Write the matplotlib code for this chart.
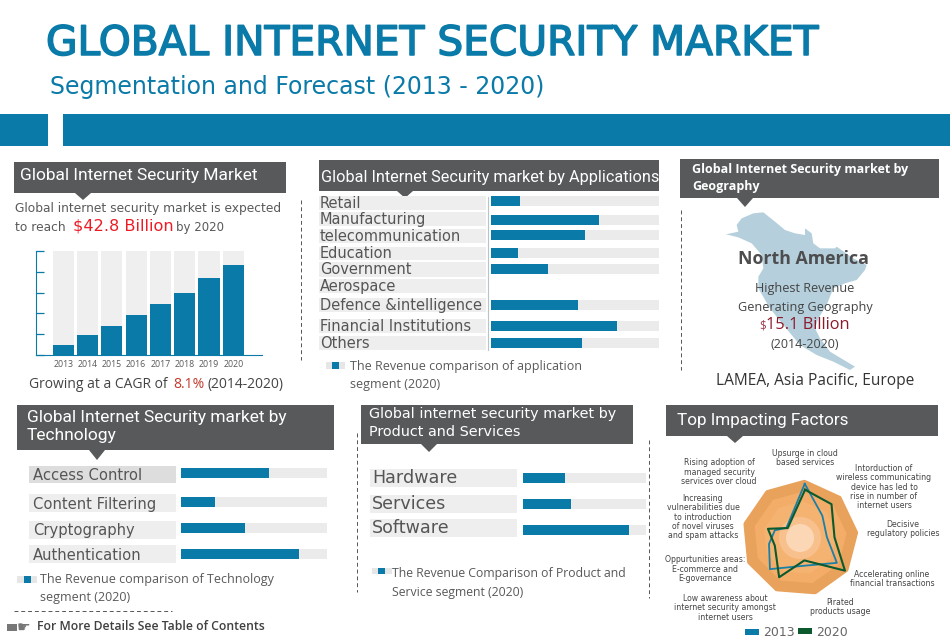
import numpy as np
import matplotlib
matplotlib.use("Agg")
import matplotlib.pyplot as plt
import matplotlib.patheffects as pe
from matplotlib.patches import Polygon, Rectangle

# market size panel
years = ["2013", "2014", "2015", "2016", "2017", "2018", "2019", "2020"]
market_size = [10, 19, 28, 38, 49, 60, 74, 87]

# revenue comparison panels (share of the grey track)
app_labels = ["Retail", "Manufacturing", "telecommunication", "Education", "Government",
              "Aerospace", "Defence &intelligence", "Financial Institutions", "Others"]
app_values = [17, 64, 56, 16, 34, 0, 52, 75, 54]

tech_labels = ["Access Control", "Content Filtering", "Cryptography", "Authentication"]
tech_values = [60, 23, 44, 81]

prod_labels = ["Hardware", "Services", "Software"]
prod_values = [34, 39, 86]

# radar panel, corners read as bearing (deg) and radius (0-10)
factor_labels = ["Upsurge in cloud\nbased services",
                 "Intorduction of\nwireless communicating\ndevice has led to\nrise in number of\ninternet users",
                 "Decisive\nregulatory policies",
                 "Accelerating online\nfinancial transactions",
                 "Pirated\nproducts usage",
                 "Low awareness about\ninternet security amongst\ninternet users",
                 "Oppurtunities areas:\nE-commerce and\nE-governance",
                 "Increasing\nvulnerabilities due\nto introduction\nof novel viruses\nand spam attacks",
                 "Rising adoption of\nmanaged security\nservices over cloud"]
bearing_2013 = [5, 45, 88, 124, 170, 224, 259, 287, 307]
factors_2013 = [9.3, 5.4, 4.6, 7.6, 4.8, 7.4, 5.4, 4.5, 2.9]
bearing_2020 = [6, 43, 89, 126, 169, 208, 253, 286, 309]
factors_2020 = [8.3, 7.9, 5.9, 9.5, 3.9, 7.6, 4.5, 5.7, 2.7]

# layout, in reference pixels
app_rows = [201, 220, 235, 253, 269, 288, 305, 326, 343]
app_strips = [(196, 210), (212, 226), (229, 243), (247, 260), (262, 277), (279, 293), (298, 312), (319, 333), (336, 350)]
tech_rows = [473, 502, 528, 554]
tech_strips = [(466, 483), (494, 512), (521, 539), (545, 563)]
prod_rows = [478, 504, 530]
prod_strips = [(469, 487), (495, 513), (519, 537)]
factor_pos = [(805, 458), (884, 487), (903, 529), (892, 579), (840, 607), (725, 608), (705, 569), (703, 517), (719, 472)]
map_outline = [(18, 88), (55, 80), (50, 60), (65, 40), (100, 25), (130, 22), (165, 50), (195, 75), (225, 85),
               (255, 90), (255, 70), (275, 85), (280, 115), (300, 130), (345, 130), (350, 125), (400, 160),
               (440, 180), (435, 195), (410, 225), (375, 235), (340, 250), (320, 300), (295, 340), (285, 370),
               (300, 400), (330, 440), (405, 485), (390, 495), (340, 470), (290, 450), (240, 420), (190, 360),
               (150, 310), (115, 250), (115, 215), (130, 190), (125, 150), (95, 115), (55, 97)]

W, H = 950, 644
TEAL = "#0a7aa8"
HEAD = "#58595b"
TRACK = "#ebebeb"
TEXT = "#58595b"
GOTHIC = "DejaVu Sans"
BODY = "Open Sans"

fig = plt.figure(figsize=(W / 100, H / 100), dpi=100, facecolor="white")


def px_axes(x0, y0, x1, y1, **kw):
    return fig.add_axes([x0 / W, 1 - y1 / H, (x1 - x0) / W, (y1 - y0) / H], **kw)


bg = px_axes(0, 0, W, H)
bg.set_xlim(0, W)
bg.set_ylim(H, 0)
bg.axis("off")


def put(x, y, s, size, color=TEXT, family=GOTHIC, ha="left", **kw):
    return bg.text(x, y, s, fontsize=size, color=color, family=family, ha=ha, va="center", **kw)


def rect(x0, y0, x1, y1, color):
    bg.add_patch(Rectangle((x0, y0), x1 - x0, y1 - y0, facecolor=color, edgecolor="none"))


def header(x0, y0, x1, y1, tip_x, tip_y):
    rect(x0, y0, x1, y1, HEAD)
    bg.add_patch(Polygon([(tip_x - 8, y1), (tip_x + 8, y1), (tip_x, tip_y)], facecolor=HEAD, edgecolor="none"))


def legend_key(x0, y0, x1, y1, kx0, kx1):
    rect(x0, y0, x1, y1, "#e6e6e6")
    rect(kx0, y0, kx1, y1, TEAL)


def dashed(xs, ys):
    bg.plot(xs, ys, color="#555555", lw=0.7, dashes=(4, 3))


def track_bars(x0, x1, rows, values, thick, skip_empty=False):
    # y axis of these panels runs in figure pixels so rows line up with the label strips
    ax = px_axes(x0, 0, x1, H)
    ax.patch.set_alpha(0)
    ax.axis("off")
    ax.set_xlim(0, 100)
    ax.set_ylim(H, 0)
    for row, val in zip(rows, values):
        if skip_empty and val == 0:
            continue
        ax.barh(row, 100, height=thick, color=TRACK)
        ax.barh(row, val, height=thick, color=TEAL)
    return ax


# title and banner
title = put(46, 44, "GLOBAL INTERNET SECURITY MARKET", 29.3, color=TEAL)
title.set_path_effects([pe.withStroke(linewidth=1.1, foreground=TEAL)])
put(50, 87, "Segmentation and Forecast (2013 - 2020)", 17, color=TEAL)
rect(0, 114, 48, 146, TEAL)
rect(63, 114, W, 146, TEAL)

# section headers
header(14, 162, 286, 193, 83, 200)
put(20, 175, "Global Internet Security Market", 12.5, color="white", family="Roboto")
header(319, 160, 659, 191, 405, 198)
put(321, 177, "Global Internet Security market by Applications", 11.7, color="white", family="Roboto")
header(680, 159, 939, 198, 745, 207)
put(692, 178, "Global Internet Security market by\nGeography", 9, color="white", family=BODY, fontweight="bold", linespacing=1.45)
header(17, 405, 334, 450, 97, 460)
put(27, 426, "Global Internet Security market by\nTechnology", 12.5, color="white", family="Roboto", linespacing=1.25)
header(361, 405, 633, 444, 429, 452)
put(369, 423, "Global internet security market by\nProduct and Services", 10.4, color="white", linespacing=1.4)
header(666, 405, 938, 436, 735, 443)
put(677, 420, "Top Impacting Factors", 12.3, color="white", family="Roboto")

# dashed separators
dashed([301, 301], [200, 360])
dashed([681, 681], [210, 370])
dashed([357, 357], [433, 592])
dashed([649, 649], [440, 598])
dashed([14, 172], [611, 611])

# market size panel
put(15, 208, "Global internet security market is expected", 8.8)
put(15, 227, "to reach", 8.8)
put(73, 226, "$42.8 Billion", 11.6, color="#ed1c24")
put(176, 227, "by 2020", 8.5)
ax = px_axes(36, 251, 262, 355)
ax.patch.set_alpha(0)
pos = np.arange(len(years))
ax.bar(pos, [100] * len(years), width=0.87, color="#efefef")
ax.bar(pos, market_size, width=0.87, color=TEAL)
ax.set_xlim(-1.12, 8.18)
ax.set_ylim(0, 100)
ax.set_xticks(pos, years, fontsize=6.3, color=TEXT, family="Open Sans")
ax.set_yticks([0, 20, 40, 60, 80, 100], [])
ax.tick_params(axis="x", length=0, pad=3.5)
ax.tick_params(axis="y", direction="in", length=6, color=TEAL, width=0.9)
ax.spines[["top", "right"]].set_visible(False)
ax.spines[["left", "bottom"]].set_color(TEAL)
put(29, 384, "Growing at a CAGR of", 10, color="#444444", family=BODY)
put(173, 384, "8.1%", 10, color="#c0392b", family=BODY)
put(208, 384, "(2014-2020)", 10, color="#444444", family=BODY)

# applications panel
for label, (top, bottom) in zip(app_labels, app_strips):
    rect(319, top, 486, bottom, "#eeeeee")
    put(320, (top + bottom) / 2, label, 10.5, color="#555555")
bg.plot([488, 488], [197, 350], color="#b8c4cc", lw=0.8)
track_bars(491, 659, app_rows, app_values, 10, skip_empty=True)
legend_key(326, 362, 345, 369, 332, 339)
put(350, 375, "The Revenue comparison of application\nsegment (2020)", 9, family=BODY, linespacing=1.5)

# geography panel
bg.add_patch(Polygon([(720 + x / 3, 205 + y / 3) for x, y in map_outline], facecolor="#b5d0dc", edgecolor="none"))
put(803, 259, "North America", 12.8, color="#4d4d4f", family=BODY, ha="center", fontweight="bold")
put(805, 288, "Highest Revenue", 9.1, color="#444444", family=BODY, ha="center")
put(805, 307, "Generating Geography", 9.1, color="#444444", family=BODY, ha="center")
put(759, 326, "$", 8.5, color="#a04050", family=BODY)
put(766, 325, "15.1 Billion", 11.8, color="#8b1a2b", family=BODY)
put(805, 344, "(2014-2020)", 9, color="#444444", family=BODY, ha="center")
put(815, 381, "LAMEA, Asia Pacific, Europe", 11.2, color="#333333", family=BODY, ha="center")

# technology panel
for i, (label, (top, bottom)) in enumerate(zip(tech_labels, tech_strips)):
    rect(29, top, 176, bottom, "#dddddd" if i == 0 else "#eeeeee")
    put(33, (top + bottom) / 2 + 1, label, 10.6, color="#555555")
track_bars(181, 327, tech_rows, tech_values, 10)
legend_key(17, 576, 37, 583, 24, 31)
put(40, 589, "The Revenue comparison of Technology\nsegment (2020)", 9, family=BODY, linespacing=1.5)

# product panel
for label, (top, bottom) in zip(prod_labels, prod_strips):
    rect(370, top, 517, bottom, "#eeeeee")
    put(372, (top + bottom) / 2, label, 12.6, color="#555555")
track_bars(523, 646, prod_rows, prod_values, 10)
legend_key(372, 568, 392, 574, 378, 385)
put(392, 583, "The Revenue Comparison of Product and\nService segment (2020)", 8.8, family=BODY, linespacing=1.55)

# footer note
rect(7, 624, 17, 631, "#777777")
put(17, 627, "\u261b", 11, color="#777777", family="DejaVu Sans")
put(37, 627, "For More Details See Table of Contents", 8.8, color="#404040", family=BODY, fontweight="semibold")

# radar
radar = px_axes(800 - 58.5, 538 - 58.5, 800 + 58.5, 538 + 58.5, projection="polar")
radar.patch.set_alpha(0)
radar.set_theta_zero_location("N")
radar.set_theta_direction(-1)
radar.axis("off")
angles = np.deg2rad(4.5 + 40 * np.arange(len(factor_labels)))
closed = np.append(angles, angles[0])
for level, shade in [(10, "#e8a25c"), (8, "#f3ad68"), (6.3, "#f5b372")]:
    radar.fill(closed, [level] * len(closed), color=shade, lw=0)
circle_t = np.linspace(0, 2 * np.pi, 80)
radar.fill(circle_t, np.full(80, 3.6), color="#f8c08c", lw=0)
radar.fill(circle_t, np.full(80, 2.4), color="#fbd7b6", lw=0)
t13 = np.deg2rad(bearing_2013 + bearing_2013[:1])
t20 = np.deg2rad(bearing_2020 + bearing_2020[:1])
radar.plot(t13, factors_2013 + factors_2013[:1], color="#1c7fa6", lw=1.3)
radar.plot(t20, factors_2020 + factors_2020[:1], color="#0b5a2e", lw=1.5)
radar.set_rlim(0, 10)

for label, (x, y) in zip(factor_labels, factor_pos):
    put(x, y, label, 5.6, color="#444444", ha="center", multialignment="center", linespacing=1.05)

rect(745, 629, 759, 635, TEAL)
put(763, 632, "2013", 9, color="#666666")
rect(798, 628, 812, 634, "#0b5a2e")
put(816, 632, "2020", 9, color="#666666")

fig.savefig("out.png", dpi=100)
